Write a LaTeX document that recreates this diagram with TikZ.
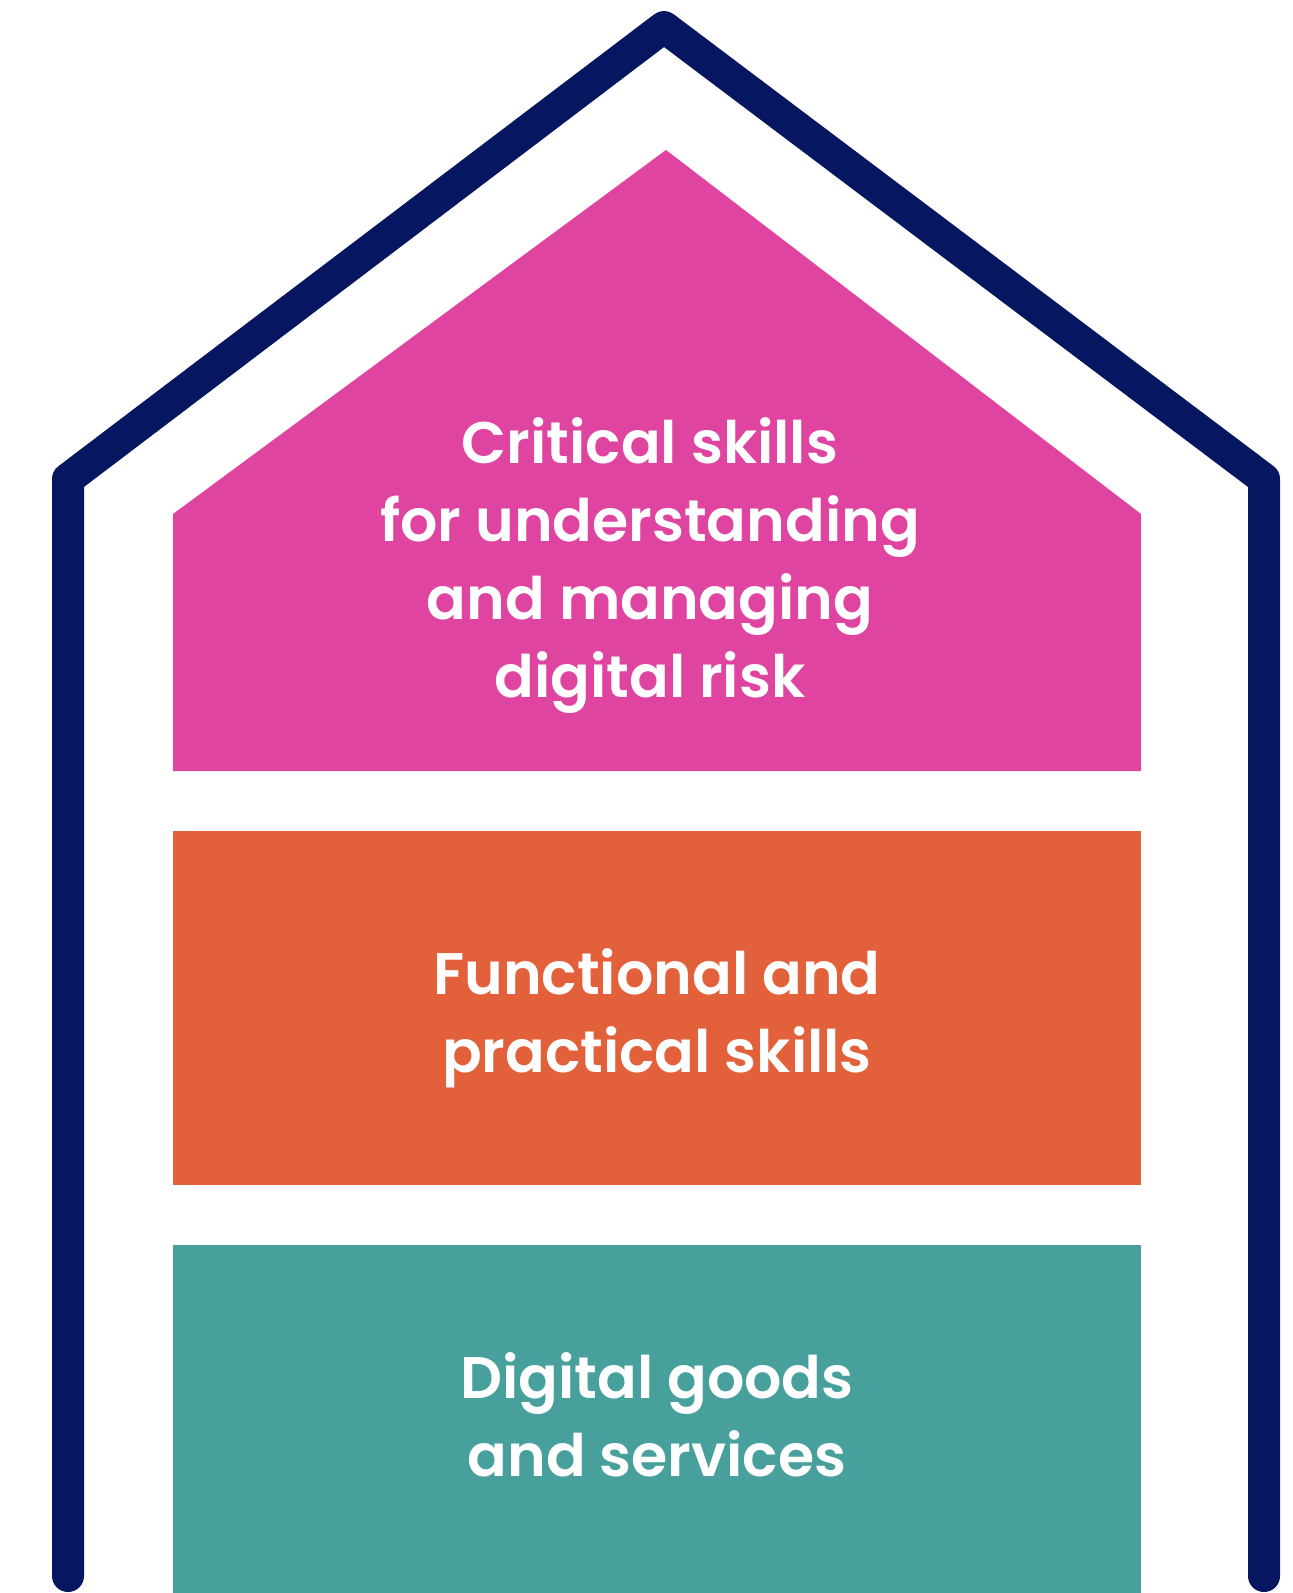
\documentclass[tikz,border=0pt]{standalone}
\usepackage{fontspec}
\setmainfont{Poppins}[BoldFont={Poppins SemiBold}]
\usepackage{xcolor}
\definecolor{houseNavy}{RGB}{6,22,96}
\definecolor{riskPink}{RGB}{224,68,161}
\definecolor{skillOrange}{RGB}{226,96,58}
\definecolor{goodsTeal}{RGB}{72,160,156}

\begin{document}
\begin{tikzpicture}
		[x=0.5pt,y=-0.5pt,
		wallDecorate/.style={draw=houseNavy,line width=16pt,line cap=round,line join=round},%
		labelDecorate/.style={text=white,align=center,font=\bfseries\fontsize{29.3}{39}\selectfont}]
		\useasboundingbox (0,0) rectangle (1292,1593);
		%% outline of the house
		\coordinate (leftFoot) at (68,1576);
		\coordinate (leftEave) at (68,479);
		\coordinate (apex) at (664,27);
		\coordinate (rightEave) at (1264,479);
		\coordinate (rightFoot) at (1264,1576);
		\draw[wallDecorate] (leftFoot) -- (leftEave) -- (apex) -- (rightEave) -- (rightFoot);
		%% layers
		\fill[riskPink] (173,771) -- (173,514) -- (666,150) -- (1141,514) -- (1141,771) -- cycle;
		\foreach \colour/\top/\bottom in {skillOrange/831/1185, goodsTeal/1245/1600}
		{
			\fill[\colour] (173,\top) rectangle (1141,\bottom);
		}
		%% labels
		\foreach \nodename/\x/\y/\label in {
			critical/650/566/{Critical skills\\for understanding\\and managing\\digital risk},
			functional/657/1018/{Functional and\\practical skills},
			goods/657/1415/{Digital goods\\and services}}
		{
			\node (\nodename) at (\x,\y) [labelDecorate] {\label};
		}
	\end{tikzpicture}
\end{document}
